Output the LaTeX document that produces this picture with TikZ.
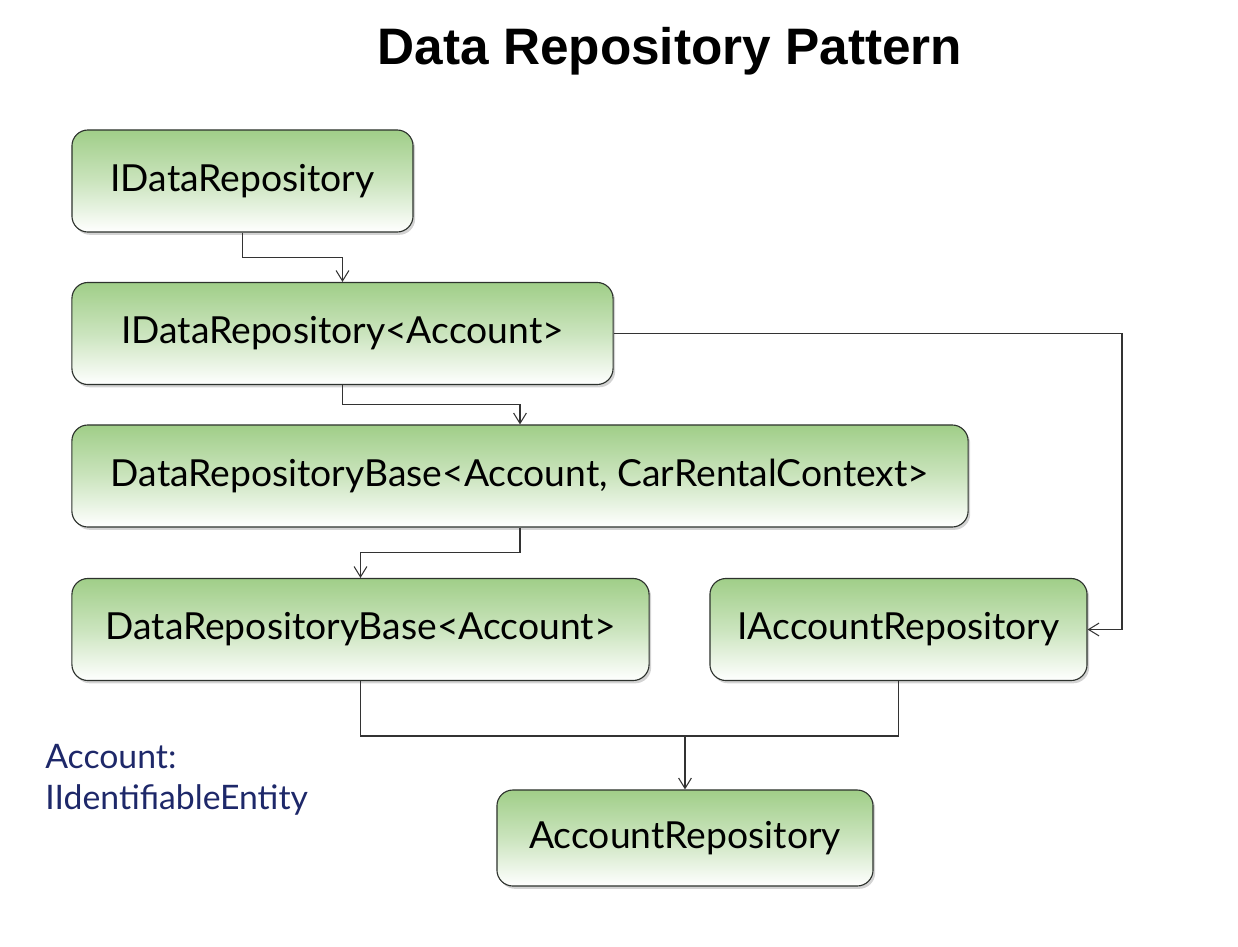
\documentclass[tikz,border=0pt]{standalone}
\usepackage{fontspec}
\setmainfont{Lato}
\newfontfamily\titlefont{Liberation Sans}
\usepackage{xcolor}
\usetikzlibrary{positioning, arrows.meta, shadows, calc}
\definecolor{boxGreen}{RGB}{160,206,136}
\definecolor{boxEdge}{RGB}{45,50,45}
\definecolor{noteBlue}{RGB}{30,40,105}

\begin{document}
\begin{tikzpicture}[
  x=0.025cm, y=-0.025cm,
  classbox/.style={draw=boxEdge, line width=0.8pt, rounded corners=0.4cm,
    top color=boxGreen, bottom color=white, middle color=boxGreen!55,
    minimum height=2.55cm, inner sep=0pt,
    drop shadow={shadow xshift=1.5pt, shadow yshift=-2pt, opacity=0.35},
    font=\fontsize{26.5}{31}\selectfont},
  link/.style={draw=black!80, line width=0.75pt,
    -{Straight Barb[length=2.6mm, width=3.2mm]}},
  joint/.style={draw=black!80, line width=0.75pt},
]
  \useasboundingbox (0,0) rectangle (1238,947);

  \node[font=\titlefont\bfseries\fontsize{36.5}{40}\selectfont] (title) at (670,51) {Data Repository Pattern};

  \node[classbox, minimum width=8.525cm] (irepo) at (242.5,181) {IDataRepository};
  \node[classbox, minimum width=13.525cm] (irepoacc) at (342.5,333.5) {IDataRepository<Account>};
  \node[classbox, minimum width=22.4cm] (basectx) at (520,476) {DataRepositoryBase<Account, CarRentalContext>};
  \node[classbox, minimum width=14.425cm] (baseacc) at (360.5,629.5) {DataRepositoryBase<Account>};
  \node[classbox, minimum width=9.425cm] (iaccrepo) at (898.5,629.5) {IAccountRepository};
  \node[classbox, minimum width=9.4cm, minimum height=2.4cm] (accrepo) at (685,838) {AccountRepository};

  \node[anchor=north west, align=left, inner sep=0pt, text=noteBlue,
    font=\fontsize{24}{29}\selectfont] (note) at (45,744) {Account:\\IIdentifiableEntity};

  \coordinate (bend) at (1122,333.5);
  \coordinate (join) at (685,736);

  \draw[link] (irepo.south) |- ($(irepo.south)!0.5!(irepoacc.north)$) -| (irepoacc.north);
  \draw[link] (irepoacc.south) |- ($(irepoacc.south)!0.5!(basectx.north)$) -| (basectx.north);
  \draw[link] (basectx.south) |- ($(basectx.south)!0.5!(baseacc.north)$) -| (baseacc.north);
  \draw[link] (irepoacc.east) -- (bend) |- (iaccrepo.east);
  \draw[joint] (baseacc.south) |- (join) -| (iaccrepo.south);
  \draw[link] (join) -- (accrepo.north);
\end{tikzpicture}
\end{document}
